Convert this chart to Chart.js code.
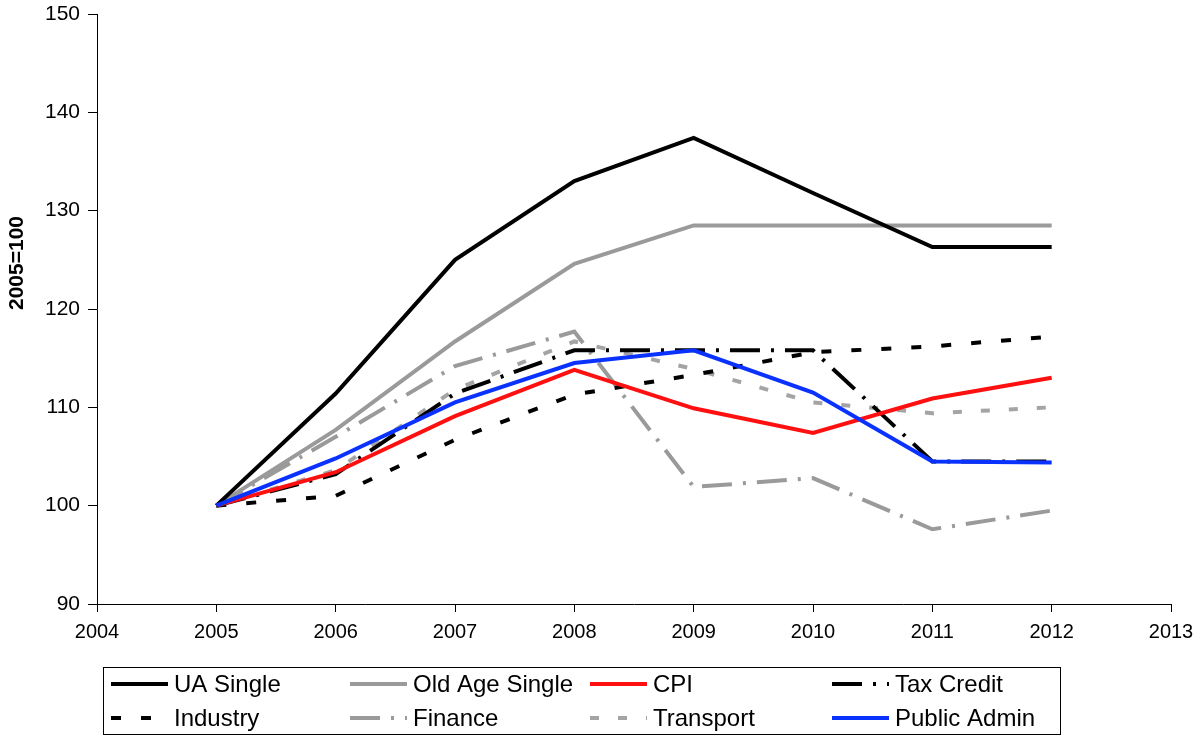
<!DOCTYPE html>
<html>
<head>
<meta charset="utf-8">
<title>2005=100 index chart</title>
<script src="https://cdn.jsdelivr.net/npm/chart.js@4.4.1/dist/chart.umd.min.js"></script>
<style>
  html, body { margin: 0; padding: 0; background: #fff; }
  #wrap { width: 1200px; height: 736px; }
</style>
</head>
<body>
<div id="wrap"><canvas id="chart" width="1200" height="736"></canvas></div>
<script>
// years on the x axis
const years = [2005, 2006, 2007, 2008, 2009, 2010, 2011, 2012];

// index values, 2005 = 100
const uaSingle     = [100, 111.4, 125.0, 133.0, 137.4, 131.8, 126.3, 126.3];
const oldAgeSingle = [100, 107.7, 116.7, 124.6, 128.5, 128.5, 128.5, 128.5];
const cpi          = [100, 103.4, 109.1, 113.8, 109.9, 107.4, 110.9, 113.0];
const taxCredit    = [100, 103.2, 111.4, 115.8, 115.8, 115.8, 104.5, 104.5];
const industry     = [100, 101.0, 106.7, 111.3, 113.3, 115.6, 116.2, 117.2];
const finance      = [100, 107.0, 114.2, 117.7, 101.9, 102.8, 97.6, 99.5];
const transport    = [100, 103.6, 111.8, 116.7, 113.9, 110.5, 109.4, 110.0];
const publicAdmin  = [100, 104.8, 110.5, 114.5, 115.8, 111.5, 104.5, 104.4];

const seriesNames = ["UA Single", "Old Age Single", "CPI", "Tax Credit",
                     "Industry", "Finance", "Transport", "Public Admin"];
const yTitle = "2005=100";

const BLACK = "#000000";
const GREY = "#9a9a9a";
const LIGHT_GREY = "#a4a4a4";
const RED = "#ff1010";
const BLUE = "#0a32ff";

function toPoints(values) {
  return years.map((yr, i) => ({ x: yr, y: values[i] }));
}

function line(label, values, color, dash, order) {
  return {
    label: label,
    data: toPoints(values),
    borderColor: color,
    backgroundColor: color,
    borderWidth: 4,
    borderDash: dash,
    borderCapStyle: "butt",
    borderJoinStyle: "miter",
    pointRadius: 0,
    pointHoverRadius: 0,
    tension: 0,
    fill: false,
    order: order
  };
}

// legend drawn in a 4 x 2 grid inside a framed box, plus the rotated y title
const boxLegend = {
  id: "boxLegend",
  afterDraw(chart) {
    const ctx = chart.ctx;
    const left = 103, top = 667, right = 1060, bottom = 735;
    ctx.save();
    ctx.strokeStyle = "#000";
    ctx.lineWidth = 1;
    ctx.strokeRect(left + 0.5, top + 0.5, right - left, bottom - top - 1);

    const colX = [111, 350, 590, 832];
    const rowY = [684, 718];
    ctx.font = "24px 'Liberation Sans', Arial, sans-serif";
    ctx.textBaseline = "middle";
    ctx.fillStyle = "#000";
    chart.data.datasets.forEach((ds, i) => {
      const x = colX[i % 4];
      const y = rowY[Math.floor(i / 4)];
      ctx.beginPath();
      ctx.strokeStyle = ds.borderColor;
      ctx.lineWidth = 4;
      ctx.lineCap = "butt";
      ctx.setLineDash(ds.borderDash || []);
      ctx.moveTo(x, y);
      ctx.lineTo(x + 57, y);
      ctx.stroke();
      ctx.setLineDash([]);
      ctx.fillText(ds.label, x + 63, y + 1);
    });

    // y axis title
    ctx.translate(17, 263);
    ctx.rotate(-Math.PI / 2);
    ctx.font = "bold 21px 'Liberation Sans', Arial, sans-serif";
    ctx.textAlign = "center";
    ctx.textBaseline = "middle";
    ctx.fillText(yTitle, 0, 0);
    ctx.restore();
  }
};

const ctx = document.getElementById("chart").getContext("2d");
const chart = new Chart(ctx, {
  type: "line",
  data: {
    datasets: [
      line(seriesNames[0], uaSingle, BLACK, [], 5),
      line(seriesNames[1], oldAgeSingle, GREY, [], 6),
      line(seriesNames[2], cpi, RED, [], 2),
      line(seriesNames[3], taxCredit, BLACK, [30, 11, 3, 11], 4),
      line(seriesNames[4], industry, BLACK, [10, 20], 3),
      line(seriesNames[5], finance, GREY, [30, 11, 3, 11], 7),
      line(seriesNames[6], transport, LIGHT_GREY, [9, 19], 8),
      line(seriesNames[7], publicAdmin, BLUE, [], 1)
    ]
  },
  options: {
    responsive: false,
    animation: false,
    devicePixelRatio: 1,
    layout: { padding: { left: 0, right: 29, top: 14, bottom: 88 } },
    plugins: {
      legend: { display: false },
      tooltip: { enabled: false },
      title: { display: false }
    },
    scales: {
      x: {
        type: "linear",
        min: 2004,
        max: 2013,
        afterFit(scale) {
          scale.height = 44;
          scale.paddingLeft = 0;
          scale.paddingRight = 0;
        },
        ticks: {
          stepSize: 1,
          color: "#000",
          padding: 8,
          maxRotation: 0,
          font: { family: "'Liberation Sans', Arial, sans-serif", size: 20 },
          callback: v => String(v)
        },
        grid: {
          drawOnChartArea: false,
          drawTicks: true,
          tickLength: 8,
          tickColor: "#000",
          color: "#000"
        },
        border: { display: true, color: "#000", width: 1 }
      },
      y: {
        min: 90,
        max: 150,
        afterFit(scale) {
          scale.width = 97;
          scale.paddingTop = 0;
          scale.paddingBottom = 0;
        },
        ticks: {
          stepSize: 10,
          color: "#000",
          padding: 8,
          font: { family: "'Liberation Sans', Arial, sans-serif", size: 21 }
        },
        grid: {
          drawOnChartArea: false,
          drawTicks: true,
          tickLength: 9,
          tickColor: "#000",
          color: "#000"
        },
        border: { display: true, color: "#000", width: 1 }
      }
    }
  },
  plugins: [boxLegend]
});
</script>
</body>
</html>
